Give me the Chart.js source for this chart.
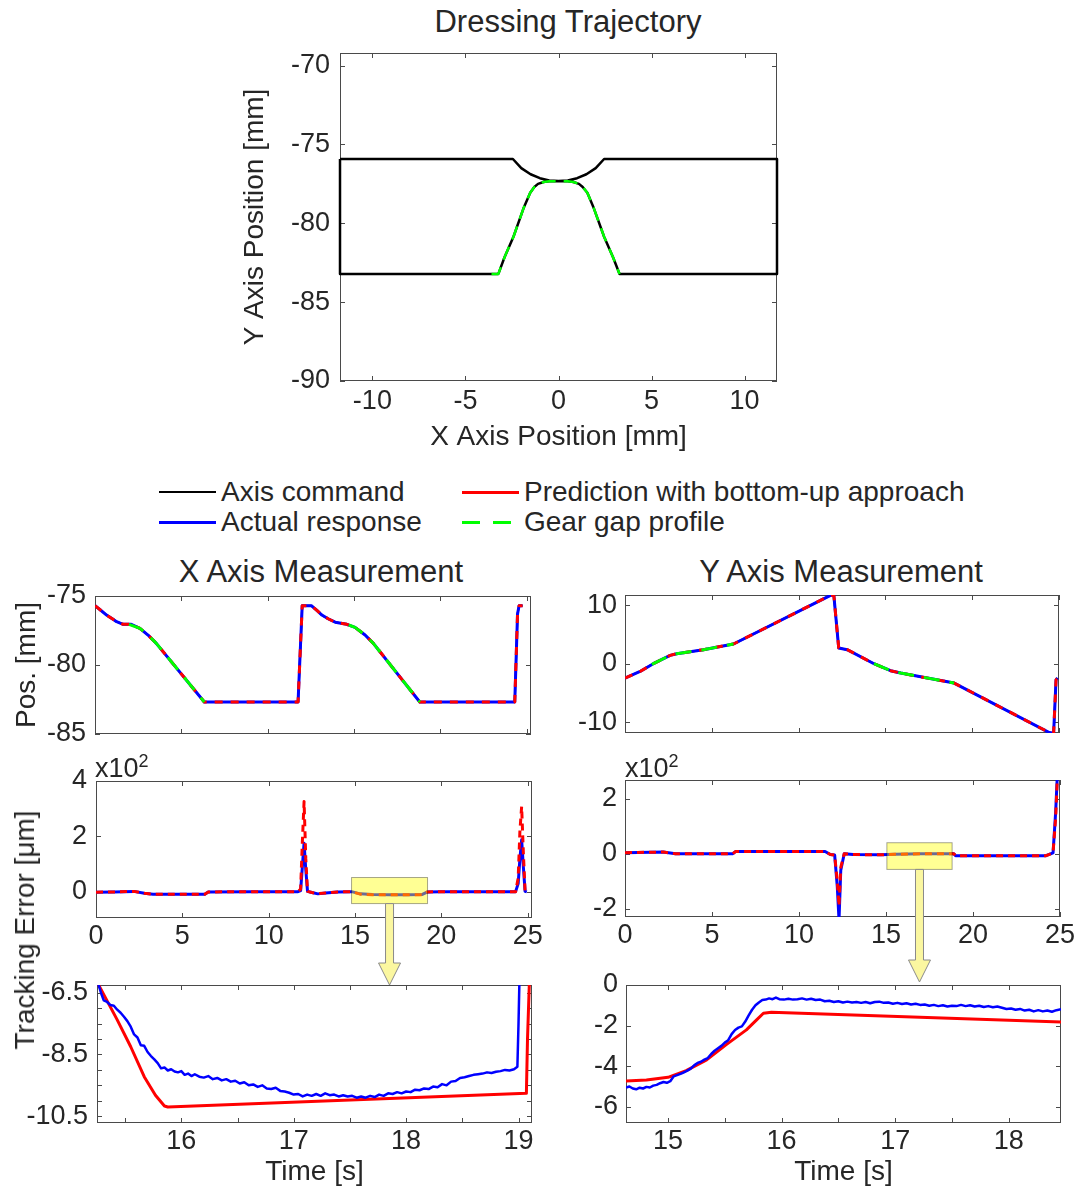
<!DOCTYPE html>
<html>
<head>
<meta charset="utf-8">
<title>Dressing trajectory and axis measurements</title>
<script src="https://cdn.jsdelivr.net/npm/chart.js@4.4.1/dist/chart.umd.min.js"></script>
<style>
  html, body { margin: 0; padding: 0; background: #fff; }
  body { position: relative; width: 1079px; height: 1193px; overflow: hidden;
         font-family: 'Liberation Sans', Arial, Helvetica, sans-serif; color: #262626; }
  canvas { position: absolute; }
  .txt { position: absolute; white-space: nowrap; transform: translate(-50%, -50%); }
  .ttl { font-size: 31px; }
  .exp { position: absolute; font-size: 27px; line-height: 27px; white-space: nowrap; }
  .exp sup { font-size: 18px; vertical-align: 10px; line-height: 0; }
  .leg { position: absolute; font-size: 28px; line-height: 30px; white-space: nowrap; }
  .leg i { position: absolute; left: -62px; top: 14px; width: 57px; height: 2px; }
</style>
</head>
<body>
<div class="txt ttl" style="left:568px;top:22px">Dressing Trajectory</div>

<div class="leg" style="left:221px;top:477px"><i style="background:#000"></i>Axis command</div>
<div class="leg" style="left:221px;top:507px"><i style="background:#0000ff;height:3px"></i>Actual response</div>
<div class="leg" style="left:524px;top:477px"><i style="background:#ff0000;height:3px"></i>Prediction with bottom-up approach</div>
<div class="leg" style="left:524px;top:507px"><i style="height:3px;background:repeating-linear-gradient(90deg,#00ff00 0 18px,transparent 18px 31px)"></i>Gear gap profile</div>

<div class="txt ttl" style="left:321px;top:572px">X Axis Measurement</div>
<div class="txt ttl" style="left:841px;top:572px">Y Axis Measurement</div>

<script>
// ---- dressing trajectory (top) ----
const trajX = [-11.74, -2.45, -2.0, -1.5, -1.0, -0.5, 0, 0.5, 1.0, 1.5, 2.0, 2.45, 11.74, 11.74, 3.28, 2.93, 2.45, 1.9, 1.55, 1.3, 1.1, 0.8, 0.5, 0,
  -0.5, -0.8, -1.1, -1.3, -1.52, -1.88, -2.42, -2.9, -3.23, -11.74, -11.74];
const trajY = [-75.92, -75.92, -76.5, -76.89, -77.14, -77.28, -77.32, -77.28, -77.14, -76.89, -76.5, -75.92, -75.92, -83.21, -83.21, -82.15, -80.85, -79.05, -78.06, -77.7, -77.5, -77.38, -77.34, -77.33,
  -77.34, -77.38, -77.5, -77.7, -78.06, -79.05, -80.85, -82.15, -83.21, -83.21, -75.92];
const gapX = [-3.6, -3.23, -2.9, -2.42, -1.88, -1.52, -1.3, -1.1, -0.8, -0.5, 0, 0.5, 0.8, 1.1, 1.3, 1.55, 1.9, 2.45, 2.93, 3.28];
const gapY = [-83.21, -83.21, -82.15, -80.85, -79.05, -78.06, -77.7, -77.5, -77.38, -77.34, -77.33, -77.34, -77.38, -77.5, -77.7, -78.06, -79.05, -80.85, -82.15, -83.21];
const trajTicksX = [-10, -5, 0, 5, 10];
const trajTicksY = [-90, -85, -80, -75, -70];

// ---- position measurements ----
const xPosT = [0, 0.35, 0.67, 1.0, 1.25, 1.63, 2.1, 2.6, 3.07, 3.55, 6.33, 11.76, 12.0, 12.53, 12.85, 13.14, 13.5, 13.91, 14.58, 15.06, 15.64, 16.12, 18.81, 24.31, 24.47, 24.56, 24.76];
const xPosV = [-75.7, -76.05, -76.38, -76.65, -76.86, -77.05, -77.05, -77.35, -77.83, -78.43, -82.68, -82.68, -75.7, -75.7, -76.05, -76.38, -76.65, -76.9, -77.05, -77.27, -77.83, -78.43, -82.68, -82.68, -76.3, -75.7, -75.7];
const xGapT = [1.97, 2.6, 3.07, 3.55, 6.33, 10, 14.7, 15.06, 15.64, 16.12, 18.81];
const xGapV = [-77.05, -77.35, -77.83, -78.43, -82.68, null, -77.1, -77.27, -77.83, -78.43, -82.68];
const yPosT = [0, 0.87, 1.63, 2.6, 2.98, 4.52, 6.25, 11.84, 12.03, 12.31, 12.8, 14.34, 15.3, 15.88, 18.96, 24.44, 24.69, 24.83, 24.92];
const yPosV = [-2.46, -1.32, 0.0, 1.43, 1.71, 2.4, 3.37, 11.7, 11.7, 2.69, 2.4, 0.0, -1.2, -1.6, -3.31, -11.78, -11.9, -2.74, -2.46];
const yGapT = [1.55, 2.6, 2.98, 4.52, 6.25, 10, 14.34, 15.3, 15.88, 18.96];
const yGapV = [-0.1, 1.43, 1.71, 2.4, 3.37, null, 0.0, -1.2, -1.6, -3.31];

// ---- tracking error, full run (x10^2 um) ----
const xErrT    = [0, 1.0, 2.2, 2.8, 3.3, 5.0, 6.3, 6.5, 9.0, 11.7, 11.85, 11.95, 12.05, 12.15, 12.25, 12.5, 12.85, 13.3, 14.0, 14.8, 15.3, 16.0, 17.0, 18.0, 18.9, 19.2, 20.0, 22.0, 24.3, 24.45, 24.55, 24.65, 24.75, 24.85, 24.95];
const xErrAct  = [-0.01, 0.0, 0.02, -0.05, -0.08, -0.08, -0.08, 0.0, 0.01, 0.01, 0.05, 0.9, 1.76, 0.8, 0.02, -0.02, -0.07, -0.04, 0.0, 0.01, -0.07, -0.09, -0.1, -0.1, -0.09, 0.0, 0.01, 0.01, 0.01, 0.3, 1.2, 1.88, 0.9, 0.02, 0.0];
const xErrPred = [-0.01, 0.0, 0.02, -0.05, -0.08, -0.08, -0.08, 0.0, 0.01, 0.01, 0.1, 1.8, 3.26, 1.2, 0.02, -0.02, -0.06, -0.04, 0.0, 0.01, -0.08, -0.1, -0.1, -0.1, -0.1, 0.0, 0.01, 0.01, 0.01, 0.5, 2.2, 3.08, 1.4, 0.02, 0.0];
const yErrT    = [0, 2.2, 2.9, 6.2, 6.35, 11.5, 11.8, 12.05, 12.2, 12.3, 12.4, 12.6, 13.1, 14.7, 15.5, 17.0, 18.9, 19.0, 24.2, 24.6, 24.75, 24.85, 24.95];
const yErrAct  = [0.04, 0.06, 0.0, 0.0, 0.08, 0.08, -0.03, -0.05, -1.2, -2.4, -0.6, 0.0, -0.03, -0.04, -0.02, 0.0, 0.0, -0.07, -0.07, 0.03, 1.5, 2.9, 2.9];
const yErrPred = [0.04, 0.06, 0.0, 0.0, 0.08, 0.08, -0.03, -0.05, -1.0, -1.9, -0.5, 0.0, -0.03, -0.04, -0.02, 0.0, 0.0, -0.07, -0.07, 0.03, 1.3, 2.8, 2.8];

// ---- tracking error, zoomed (um) ----
const xZoomT = [15.26, 15.29, 15.31, 15.34, 15.37, 15.40, 15.43, 15.46, 15.49, 15.52, 15.55, 15.58, 15.61, 15.64, 15.67, 15.70, 15.73, 15.76, 15.79, 15.82,
  15.85, 15.88, 15.91, 15.94, 15.97, 16.00, 16.03, 16.06, 16.09, 16.12, 16.16, 16.20, 16.24, 16.28, 16.32, 16.36, 16.40, 16.44, 16.48, 16.52,
  16.56, 16.60, 16.64, 16.68, 16.72, 16.76, 16.80, 16.84, 16.88, 16.92, 16.96, 17.00, 17.04, 17.08, 17.12, 17.16, 17.20, 17.24, 17.28, 17.32,
  17.36, 17.40, 17.44, 17.48, 17.52, 17.56, 17.60, 17.64, 17.68, 17.72, 17.76, 17.80, 17.84, 17.88, 17.92, 17.96, 18.00, 18.04, 18.08, 18.12,
  18.16, 18.20, 18.24, 18.28, 18.32, 18.36, 18.40, 18.44, 18.48, 18.52, 18.56, 18.60, 18.64, 18.68, 18.72, 18.76, 18.80, 18.84, 18.88, 18.92,
  18.96, 18.99, 19.00, 19.01];
const xZoomAct = [-6.2, -6.55, -6.75, -6.8, -6.9, -6.92, -7.05, -7.15, -7.28, -7.42, -7.6, -7.85, -7.95, -8.2, -8.22, -8.42, -8.55, -8.66, -8.78, -8.95,
  -8.92, -9.02, -8.98, -9.05, -9.08, -9.04, -9.16, -9.12, -9.2, -9.14, -9.22, -9.25, -9.2, -9.3, -9.26, -9.34, -9.3, -9.38, -9.35, -9.44,
  -9.4, -9.5, -9.47, -9.55, -9.5, -9.6, -9.62, -9.58, -9.68, -9.7, -9.74, -9.8, -9.78, -9.86, -9.8, -9.84, -9.78, -9.84, -9.76, -9.82,
  -9.8, -9.86, -9.82, -9.86, -9.84, -9.9, -9.86, -9.9, -9.84, -9.88, -9.8, -9.84, -9.76, -9.78, -9.72, -9.76, -9.7, -9.72, -9.64, -9.66,
  -9.6, -9.62, -9.54, -9.56, -9.46, -9.5, -9.38, -9.36, -9.26, -9.24, -9.2, -9.16, -9.14, -9.12, -9.08, -9.1, -9.06, -9.04, -9.0, -9.02,
  -8.98, -8.9, -7.5, -5.8];
const xZoomPredT = [15.25, 15.43, 15.55, 15.67, 15.77, 15.85, 15.88, 19.07, 19.08, 19.10];
const xZoomPred  = [-6.15, -7.38, -8.25, -9.22, -9.82, -10.17, -10.2, -9.76, -8.0, -5.8];

const yZoomT = [14.63, 14.66, 14.69, 14.72, 14.75, 14.78, 14.81, 14.84, 14.87, 14.90, 14.93, 14.96, 14.99, 15.02, 15.05, 15.08, 15.11, 15.14, 15.17, 15.20,
  15.23, 15.26, 15.29, 15.32, 15.35, 15.38, 15.41, 15.44, 15.47, 15.50, 15.53, 15.56, 15.59, 15.62, 15.65, 15.68, 15.71, 15.74, 15.77, 15.80,
  15.83, 15.86, 15.89, 15.92, 15.95, 15.98, 16.02, 16.06, 16.10, 16.14, 16.18, 16.22, 16.26, 16.30, 16.34, 16.38, 16.42, 16.46, 16.50, 16.54,
  16.58, 16.62, 16.66, 16.70, 16.74, 16.78, 16.82, 16.86, 16.90, 16.94, 16.98, 17.02, 17.06, 17.10, 17.14, 17.18, 17.22, 17.26, 17.30, 17.34,
  17.38, 17.42, 17.46, 17.50, 17.54, 17.58, 17.62, 17.66, 17.70, 17.74, 17.78, 17.82, 17.86, 17.90, 17.94, 17.98, 18.02, 18.06, 18.10, 18.14,
  18.18, 18.22, 18.26, 18.30, 18.34, 18.38, 18.42, 18.46];
const yZoomAct = [-5.06, -5.0, -5.1, -5.14, -5.06, -5.1, -5.02, -5.05, -4.96, -4.92, -4.84, -4.78, -4.82, -4.74, -4.5, -4.44, -4.38, -4.3, -4.22, -4.12,
  -3.96, -3.84, -3.78, -3.68, -3.6, -3.4, -3.24, -3.12, -3.0, -2.84, -2.72, -2.42, -2.22, -2.1, -2.04, -1.8, -1.5, -1.22, -1.0, -0.86,
  -0.74, -0.72, -0.66, -0.7, -0.62, -0.7, -0.72, -0.68, -0.72, -0.7, -0.66, -0.72, -0.68, -0.74, -0.72, -0.8, -0.78, -0.84, -0.8, -0.86,
  -0.82, -0.86, -0.84, -0.88, -0.84, -0.9, -0.84, -0.82, -0.88, -0.86, -0.92, -0.88, -0.94, -0.9, -0.96, -0.92, -0.98, -0.96, -1.02, -0.98,
  -1.04, -1.0, -1.06, -1.02, -1.04, -0.98, -1.04, -1.0, -1.06, -1.02, -1.08, -1.04, -1.1, -1.06, -1.12, -1.18, -1.16, -1.22, -1.18, -1.26,
  -1.22, -1.3, -1.24, -1.3, -1.26, -1.32, -1.24, -1.2];
const yZoomPredT = [14.63, 14.81, 15.0, 15.16, 15.34, 15.51, 15.69, 15.78, 15.84, 15.91, 18.46];
const yZoomPred  = [-4.73, -4.68, -4.55, -4.22, -3.69, -2.95, -2.21, -1.72, -1.39, -1.34, -1.82];

// tick values
const runTicks = [0, 5, 10, 15, 20, 25];
const xPosTicks = [-85, -80, -75];
const yPosTicks = [-10, 0, 10];
const xErrTicks = [0, 2, 4];
const yErrTicks = [-2, 0, 2];
const xZoomTicksT = [16, 17, 18, 19], xZoomMinorT = [15.5, 16.5, 17.5, 18.5];
const xZoomTicksV = [-6.5, -8.5, -10.5], xZoomMinorV = [-7, -7.5, -8, -9, -9.5, -10];
const yZoomTicksT = [15, 16, 17, 18], yZoomMinorT = [15.5, 16.5, 17.5];
const yZoomTicksV = [0, -2, -4, -6];

// highlighted windows on the full-run plots
const xWindow = [14.8, 19.2, -0.42, 0.52];
const yWindow = [15.05, 18.8, -0.57, 0.4];

const FONT = "'Liberation Sans', Arial, Helvetica, sans-serif";
const INK = '#262626';
Chart.defaults.font.family = FONT;
Chart.defaults.color = INK;

// frame + inward ticks under the data, highlight box and arrow over it
const framePlugin = {
  id: 'frame',
  beforeDatasetsDraw(chart) {
    const { ctx, chartArea: a, scales: { x, y } } = chart;
    ctx.save();
    ctx.strokeStyle = '#4a4a4a';
    ctx.lineWidth = 1;
    ctx.strokeRect(a.left + 0.5, a.top + 0.5, a.width - 1, a.height - 1);
    ctx.beginPath();
    x.ticks.forEach(tk => {
      if (tk.value < x.min || tk.value > x.max) return;
      const p = Math.round(x.getPixelForValue(tk.value)) + 0.5;
      ctx.moveTo(p, a.top); ctx.lineTo(p, a.top + 5);
      ctx.moveTo(p, a.bottom); ctx.lineTo(p, a.bottom - 5);
    });
    y.ticks.forEach(tk => {
      if (tk.value < y.min || tk.value > y.max) return;
      const p = Math.round(y.getPixelForValue(tk.value)) + 0.5;
      ctx.moveTo(a.left, p); ctx.lineTo(a.left + 5, p);
      ctx.moveTo(a.right, p); ctx.lineTo(a.right - 5, p);
    });
    ctx.stroke();
    ctx.restore();
  },
  afterDatasetsDraw(chart, args, opts) {
    if (!opts.box) return;
    const { ctx, chartArea: a, scales: { x, y } } = chart;
    const [t0, t1, v0, v1] = opts.box;
    const l = x.getPixelForValue(t0), r = x.getPixelForValue(t1);
    const t = y.getPixelForValue(v1), b = y.getPixelForValue(v0);
    ctx.save();
    ctx.fillStyle = 'rgba(255,255,0,0.42)';
    ctx.strokeStyle = 'rgba(0,0,0,0.35)';
    ctx.lineWidth = 1;
    ctx.fillRect(l, t, r - l, b - t);
    ctx.strokeRect(l, t, r - l, b - t);
    const cx = (l + r) / 2, tip = a.bottom + opts.arrowTo;
    ctx.beginPath();
    ctx.moveTo(cx - 4, b);
    ctx.lineTo(cx + 4, b);
    ctx.lineTo(cx + 4, tip - 22);
    ctx.lineTo(cx + 11, tip - 22);
    ctx.lineTo(cx, tip);
    ctx.lineTo(cx - 11, tip - 22);
    ctx.lineTo(cx - 4, tip - 22);
    ctx.closePath();
    ctx.fillStyle = '#fbf7a0';
    ctx.strokeStyle = '#8a8a8a';
    ctx.fill();
    ctx.stroke();
    ctx.restore();
  }
};
Chart.register(framePlugin);

function pts(xs, ys) {
  return xs.map((x, i) => ({ x, y: ys[i] }));
}

function line(xs, ys, color, width, dash, clip) {
  return {
    data: pts(xs, ys), borderColor: color, borderWidth: width, borderDash: dash || [],
    pointRadius: 0, fill: false, tension: 0, borderCapStyle: 'butt', borderJoinStyle: 'round',
    clip: clip || 0
  };
}

// note: chart.js adds the tick padding to the label overflow, so pt / xh must exceed 16 + pad
function axis(min, max, major, minor, fit, pad, showLabels, title) {
  return {
    type: 'linear', min, max,
    grid: { display: false, drawTicks: false },
    border: { display: false },
    afterBuildTicks: s => {
      s.ticks = major.concat(minor).sort((a, b) => a - b).map(v => ({ value: v }));
    },
    afterFit: s => {
      if (s.isHorizontal()) s.height = fit; else s.width = fit;
    },
    ticks: {
      display: showLabels, autoSkip: false, maxRotation: 0, padding: pad,
      font: { size: 27 }, color: INK,
      callback: v => major.includes(v) ? String(v) : ''
    },
    title: title
      ? { display: true, text: title, font: { size: 28 }, color: INK, padding: 4 }
      : { display: false }
  };
}

// g: plot area in page pixels + axis band sizes
function makeChart(g, datasets, xAxis, yAxis, frame) {
  const cv = document.createElement('canvas');
  const w = g.yw + (g.R - g.L) + g.pr, h = g.pt + (g.B - g.T) + g.xh;
  cv.width = w; cv.height = h;
  cv.style.left = (g.L - g.yw) + 'px';
  cv.style.top = (g.T - g.pt) + 'px';
  cv.style.width = w + 'px';
  cv.style.height = h + 'px';
  document.body.appendChild(cv);
  return new Chart(cv.getContext('2d'), {
    type: 'line',
    data: { datasets },
    options: {
      responsive: false, animation: false, events: [],
      layout: { padding: { top: g.pt, right: g.pr, left: 0, bottom: 0 } },
      plugins: { legend: { display: false }, tooltip: { enabled: false }, frame: frame || {} },
      scales: { x: xAxis, y: yAxis }
    }
  });
}

// Dressing trajectory
makeChart({ L: 340, T: 53, R: 777, B: 381, yw: 106, xh: 77, pt: 28, pr: 22 },
  [line(gapX, gapY, '#00ff00', 2.5, [14, 8], 3), line(trajX, trajY, '#000000', 2.5, null, 3)],
  axis(-11.74, 11.74, trajTicksX, [], 77, 4, true, 'X Axis Position [mm]'),
  axis(-90, -69.2, trajTicksY, [], 106, 10, true, 'Y Axis Position [mm]'));

// X axis position
makeChart({ L: 95, T: 596, R: 531, B: 734, yw: 89, xh: 27, pt: 27, pr: 18 },
  [line(xGapT, xGapV, '#00ff00', 3, [16, 10]), line(xPosT, xPosV, '#ff0000', 3, [8, 8]),
   line(xPosT, xPosV, '#0000ff', 3), line(xPosT, xPosV, '#000000', 2)],
  axis(0, 25.25, runTicks, [], 27, 4, false),
  axis(-85, -75, xPosTicks, [], 89, 9, true, 'Pos. [mm]'));

// Y axis position
makeChart({ L: 625, T: 595, R: 1059, B: 733, yw: 65, xh: 27, pt: 26, pr: 18 },
  [line(yGapT, yGapV, '#00ff00', 3, [16, 10]), line(yPosT, yPosV, '#ff0000', 3, [8, 8]),
   line(yPosT, yPosV, '#0000ff', 3), line(yPosT, yPosV, '#000000', 2)],
  axis(0, 25, runTicks, [], 27, 4, false),
  axis(-11.85, 11.75, yPosTicks, [], 65, 8, true));

// X tracking error, full run
makeChart({ L: 96, T: 781, R: 532, B: 918, yw: 56, xh: 72, pt: 27, pr: 22 },
  [line(xErrT, xErrPred, '#ff0000', 3, [7, 5]), line(xErrT, xErrAct, '#0000ff', 3)],
  axis(0, 25.25, runTicks, [], 72, 2, true),
  axis(-0.94, 4, xErrTicks, [], 56, 9, true),
  { box: xWindow, arrowTo: 67 });

// Y tracking error, full run
makeChart({ L: 625, T: 780, R: 1060, B: 917, yw: 50, xh: 72, pt: 26, pr: 20 },
  [line(yErrT, yErrPred, '#ff0000', 3, [7, 5]), line(yErrT, yErrAct, '#0000ff', 3)],
  axis(0, 25, runTicks, [], 72, 2, true),
  axis(-2.3, 2.68, yErrTicks, [], 50, 8, true),
  { box: yWindow, arrowTo: 65 });

// X tracking error, zoom
makeChart({ L: 97, T: 985, R: 532, B: 1123, yw: 85, xh: 70, pt: 27, pr: 22 },
  [line(xZoomT, xZoomAct, '#0000ff', 2.5), line(xZoomPredT, xZoomPred, '#ff0000', 3)],
  axis(15.25, 19.12, xZoomTicksT, xZoomMinorT, 70, 2, true, 'Time [s]'),
  axis(-10.72, -6.25, xZoomTicksV, xZoomMinorV, 85, 9, true));

// Y tracking error, zoom
makeChart({ L: 626, T: 985, R: 1061, B: 1123, yw: 51, xh: 70, pt: 26, pr: 18 },
  [line(yZoomT, yZoomAct, '#0000ff', 2.5), line(yZoomPredT, yZoomPred, '#ff0000', 3)],
  axis(14.63, 18.46, yZoomTicksT, yZoomMinorT, 70, 2, true, 'Time [s]'),
  axis(-6.8, 0, yZoomTicksV, [], 51, 8, true));
</script>

<div class="exp" style="left:95px;top:755px">x10<sup>2</sup></div>
<div class="exp" style="left:625px;top:755px">x10<sup>2</sup></div>
<div class="txt" style="left:25px;top:930px;font-size:28px;transform:translate(-50%,-50%) rotate(-90deg)">Tracking Error [μm]</div>
</body>
</html>
